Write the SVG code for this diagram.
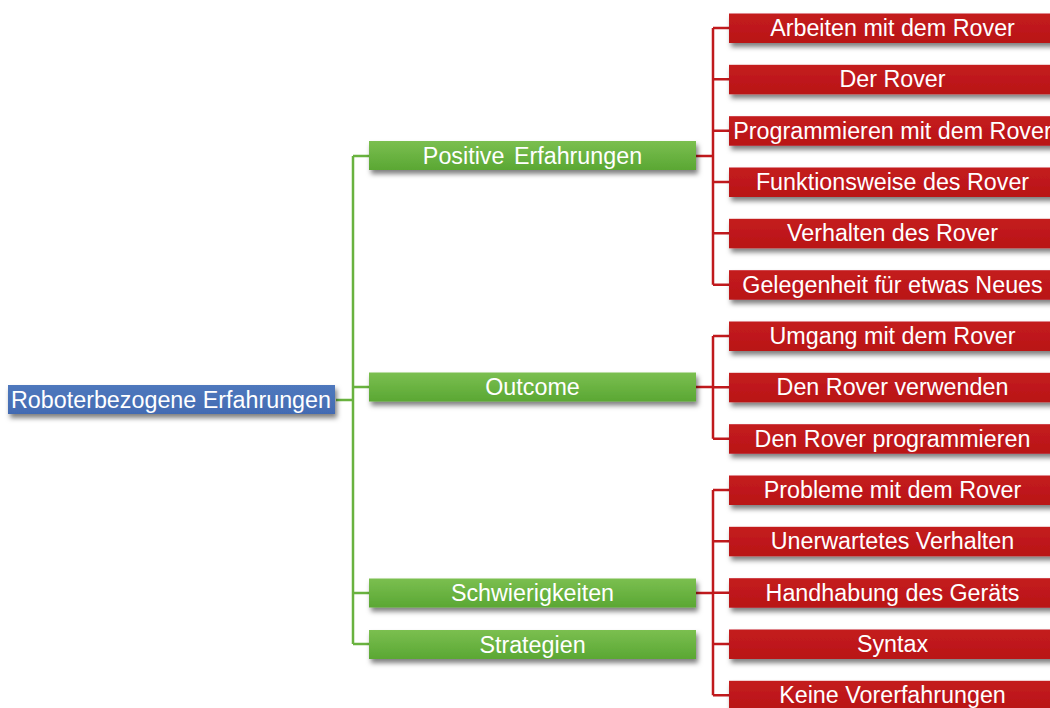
<svg xmlns="http://www.w3.org/2000/svg" width="1050" height="708" viewBox="0 0 1050 708">
<defs>
<linearGradient id="gG" x1="0" y1="0" x2="0" y2="1"><stop offset="0" stop-color="#7bbf50"/><stop offset="1" stop-color="#5aa733"/></linearGradient>
<linearGradient id="gR" x1="0" y1="0" x2="0" y2="1"><stop offset="0" stop-color="#c41c1e"/><stop offset="1" stop-color="#b91517"/></linearGradient>
<linearGradient id="gB" x1="0" y1="0" x2="0" y2="1"><stop offset="0" stop-color="#4f78bd"/><stop offset="1" stop-color="#436bb2"/></linearGradient>
<filter id="sh" x="-10%" y="-30%" width="120%" height="190%"><feDropShadow dx="2" dy="4" stdDeviation="2.5" flood-color="#000" flood-opacity="0.5"/></filter>
<style>
.t{font-family:"Liberation Sans",Arial,sans-serif;font-size:23.3px;fill:#fff;text-anchor:middle}
.bg{fill:url(#gG);filter:url(#sh)}
.br{fill:url(#gR);filter:url(#sh)}
.bb{fill:url(#gB);filter:url(#sh)}
.lg{stroke:#69b23f;stroke-width:2.5;fill:none}
.lr{stroke:#c0191c;stroke-width:2.5;fill:none}
</style>
</defs>
<rect width="1050" height="708" fill="#fff"/>
<g id="connectors">
<path class="lg" d="M336 400H353M353 156V644M353 156H369M353 387H369M353 593H369M353 644H369"/>
<path class="lr" d="M696 156H713M713 28V284.7M713 28H729M713 79.3H729M713 130.7H729M713 182H729M713 233.3H729M713 284.7H729"/>
<path class="lr" d="M696 387H713M713 336V438.7M713 336H729M713 387.3H729M713 438.7H729"/>
<path class="lr" d="M696 593H713M713 490V695.3M713 490H729M713 541.3H729M713 592.7H729M713 644H729M713 695.3H729"/>
</g>
<g id="root"><rect class="bb" x="8" y="385" width="327" height="29"/><text class="t" x="171" y="407.5">Roboterbezogene Erfahrungen</text></g>
<g id="positive"><rect class="bg" x="369" y="141" width="327" height="29"/><text class="t" x="532.5" y="163.5">Positive <tspan dx="3">Erfahrungen</tspan></text></g>
<g id="outcome"><rect class="bg" x="369" y="372.5" width="327" height="29"/><text class="t" x="532.5" y="395">Outcome</text></g>
<g id="schwierigkeiten"><rect class="bg" x="369" y="578.5" width="327" height="29"/><text class="t" x="532.5" y="601">Schwierigkeiten</text></g>
<g id="strategien"><rect class="bg" x="369" y="630" width="327" height="29"/><text class="t" x="532.5" y="652.5">Strategien</text></g>
<g id="r1"><rect class="br" x="729" y="13.5" width="330" height="29.5"/><text class="t" x="892.5" y="36">Arbeiten mit dem Rover</text></g>
<g id="r2"><rect class="br" x="729" y="64.8" width="330" height="29.5"/><text class="t" x="892.5" y="87.3">Der Rover</text></g>
<g id="r3"><rect class="br" x="729" y="116.2" width="330" height="29.5"/><text class="t" x="892.5" y="138.7">Programmieren mit dem Rover</text></g>
<g id="r4"><rect class="br" x="729" y="167.5" width="330" height="29.5"/><text class="t" x="892.5" y="190">Funktionsweise des Rover</text></g>
<g id="r5"><rect class="br" x="729" y="218.8" width="330" height="29.5"/><text class="t" x="892.5" y="241.3">Verhalten des Rover</text></g>
<g id="r6"><rect class="br" x="729" y="270.2" width="330" height="29.5"/><text class="t" x="892.5" y="292.7">Gelegenheit für etwas Neues</text></g>
<g id="r7"><rect class="br" x="729" y="321.5" width="330" height="29.5"/><text class="t" x="892.5" y="344">Umgang mit dem Rover</text></g>
<g id="r8"><rect class="br" x="729" y="372.8" width="330" height="29.5"/><text class="t" x="892.5" y="395.3">Den Rover verwenden</text></g>
<g id="r9"><rect class="br" x="729" y="424.2" width="330" height="29.5"/><text class="t" x="892.5" y="446.7">Den Rover programmieren</text></g>
<g id="r10"><rect class="br" x="729" y="475.5" width="330" height="29.5"/><text class="t" x="892.5" y="498">Probleme mit dem Rover</text></g>
<g id="r11"><rect class="br" x="729" y="526.8" width="330" height="29.5"/><text class="t" x="892.5" y="549.3">Unerwartetes Verhalten</text></g>
<g id="r12"><rect class="br" x="729" y="578.2" width="330" height="29.5"/><text class="t" x="892.5" y="600.7">Handhabung des Geräts</text></g>
<g id="r13"><rect class="br" x="729" y="629.5" width="330" height="29.5"/><text class="t" x="892.5" y="652">Syntax</text></g>
<g id="r14"><rect class="br" x="729" y="680.8" width="330" height="29.5"/><text class="t" x="892.5" y="703.3">Keine Vorerfahrungen</text></g>
</svg>
